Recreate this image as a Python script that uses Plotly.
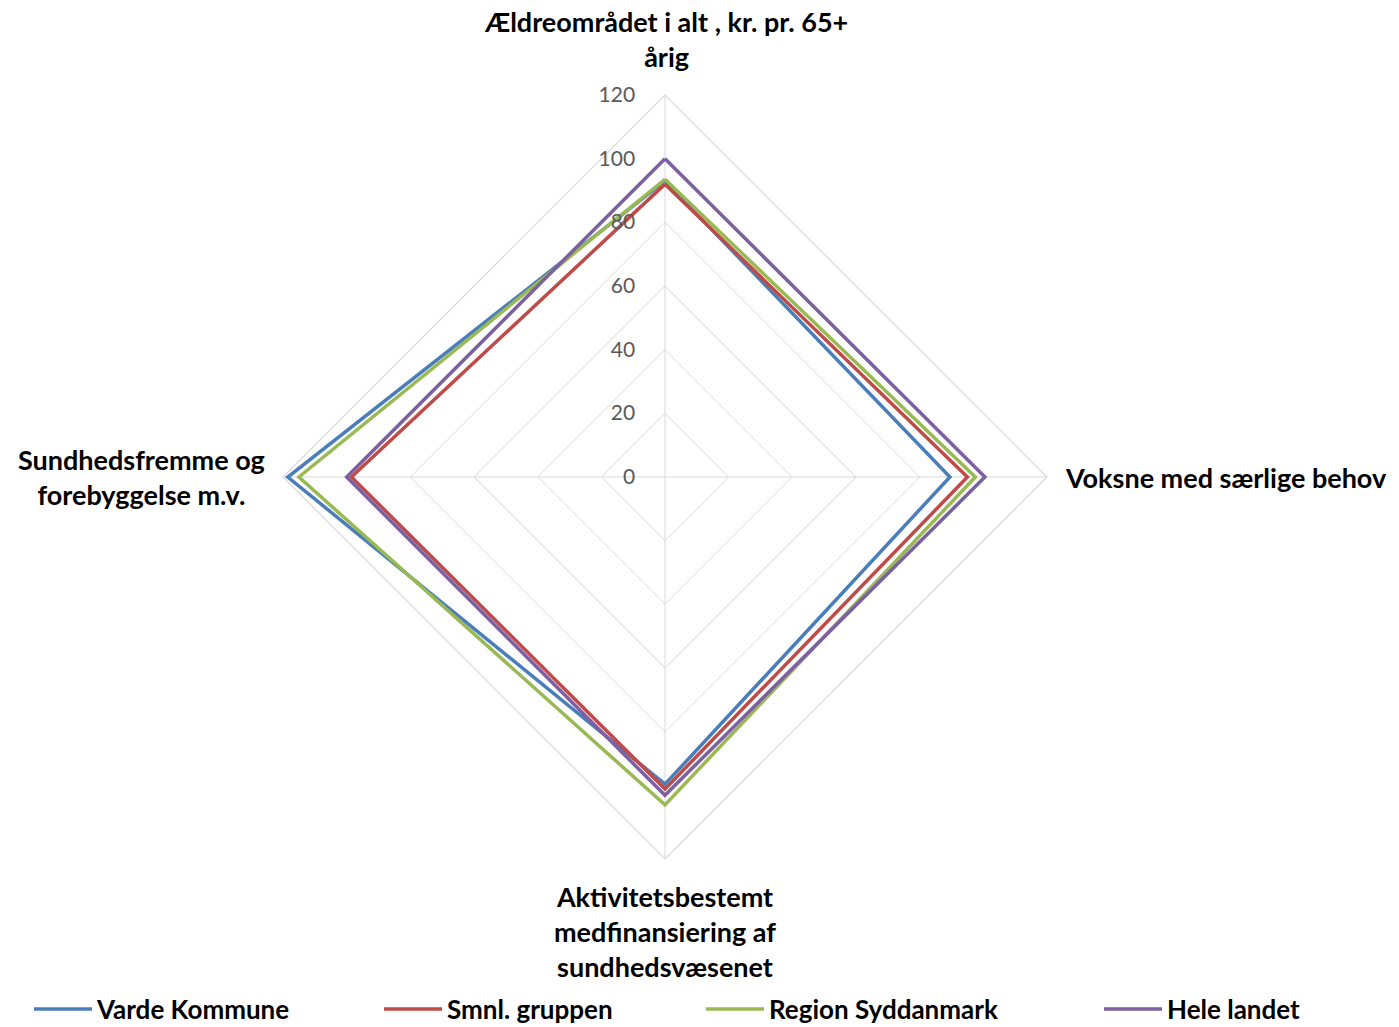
import plotly.graph_objects as go

categories = [
    "Ældreområdet i alt , kr. pr. 65+<br>årig",
    "Voksne med særlige behov",
    "Aktivitetsbestemt<br>medfinansiering af<br>sundhedsvæsenet",
    "Sundhedsfremme og<br>forebyggelse m.v.",
]
series_names = ["Varde Kommune", "Smnl. gruppen", "Region Syddanmark", "Hele landet"]
varde = [93, 89.5, 96.5, 118.5]
smnl = [92, 95, 98, 98.5]
region = [93.5, 97.5, 103, 115]
hele = [100, 100.5, 100, 100]
series_values = [varde, smnl, region, hele]
colors = ["#4A7EBB", "#BE4B48", "#98B954", "#7D60A0"]
radial_ticks = [0, 20, 40, 60, 80, 100, 120]

W, H = 1399, 1027
FONT = "Lato"

legend_ids = ["legend", "legend2", "legend3", "legend4"]
legend_x_px = [29, 379, 701, 1099]

fig = go.Figure()
for name, vals, col, lid in zip(series_names, series_values, colors, legend_ids):
    fig.add_trace(go.Scatterpolar(
        r=vals + [vals[0]],
        theta=categories + [categories[0]],
        mode="lines",
        name=name,
        legend=lid,
        line=dict(color=col, width=3.5),
    ))

cx, cy, R = 665, 477, 382
layout = dict(
    width=W, height=H,
    margin=dict(l=0, r=0, t=0, b=0, autoexpand=False),
    paper_bgcolor="white",
    plot_bgcolor="white",
    font=dict(family=FONT, color="#000000"),
    polar=dict(
        domain=dict(x=[(cx - R) / W, (cx + R) / W], y=[1 - (cy + R) / H, 1 - (cy - R) / H]),
        bgcolor="white",
        gridshape="linear",
        radialaxis=dict(
            range=[0, 120],
            tickvals=radial_ticks,
            ticktext=[str(v) for v in radial_ticks],
            angle=90,
            tickangle=90,
            side="counterclockwise",
            showline=False,
            gridcolor="#D9D9D9",
            gridwidth=1.2,
            ticks="outside",
            ticklen=22,
            tickcolor="rgba(0,0,0,0)",
            tickfont=dict(family=FONT, size=21, color="#595959"),
        ),
        angularaxis=dict(
            rotation=90,
            direction="clockwise",
            showticklabels=False,
            ticks="",
            gridcolor="#D9D9D9",
            gridwidth=1.2,
            showline=True,
            linecolor="#D9D9D9",
            linewidth=1.2,
        ),
    ),
    showlegend=True,
)
for lid, lx in zip(legend_ids, legend_x_px):
    layout[lid] = dict(
        orientation="h",
        x=lx / W, y=1 - 1009 / H, xanchor="left", yanchor="middle",
        font=dict(family=FONT, size=26, color="#000000", weight="bold"),
        itemwidth=58,
        bgcolor="rgba(0,0,0,0)",
    )
fig.update_layout(**layout)

label_pos = [
    (666, 39, "center", "middle"),
    (1063, 477, "left", "middle"),
    (665, 931, "center", "middle"),
    (141, 477, "center", "middle"),
]
for txt, (px, py, xa, ya) in zip(categories, label_pos):
    fig.add_annotation(
        text=f"<b>{txt}</b>",
        x=px / W, y=1 - py / H, xref="paper", yref="paper",
        xanchor=xa, yanchor=ya, align="center", showarrow=False,
        font=dict(family=FONT, size=27, color="#000000"),
    )

fig.write_html(
    "out.html",
    config={"displayModeBar": False},
    post_script="document.body.style.margin='0';document.body.style.padding='0';document.body.style.overflow='hidden';",
)
